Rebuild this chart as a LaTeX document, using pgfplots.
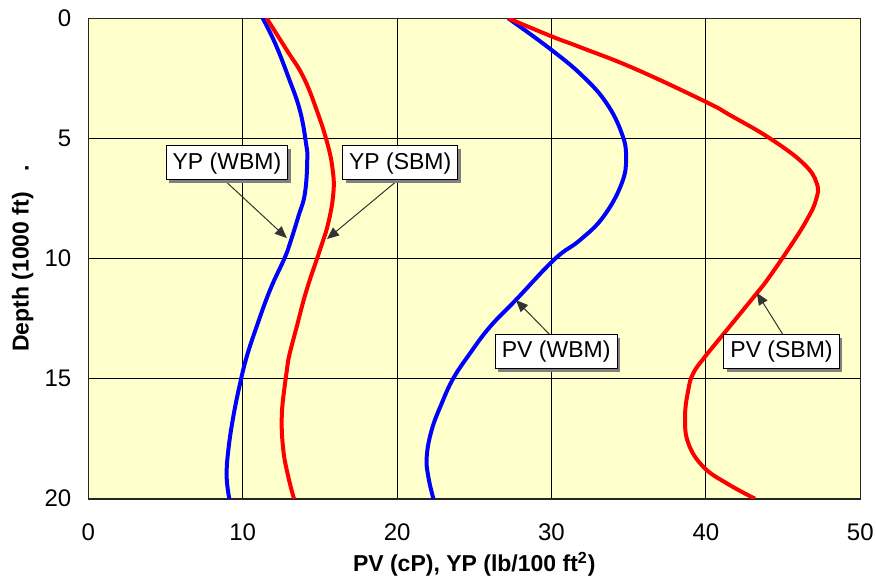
\documentclass[border=0pt]{standalone}
\usepackage{pgfplots}
\pgfplotsset{compat=1.18}
\usepackage{fontspec}
\setmainfont{Liberation Sans}
\usetikzlibrary{arrows.meta,shadows}
\definecolor{bgyellow}{RGB}{255,255,204}
\definecolor{myblue}{RGB}{0,0,255}
\definecolor{myred}{RGB}{255,0,0}
\begin{document}
\begin{tikzpicture}[font=\fontsize{11.5}{13.8}\selectfont]
\begin{axis}[
  scale only axis,
  width=386pt, height=240.2pt,
  xmin=0, xmax=50, ymin=0, ymax=20,
  y dir=reverse,
  xtick={0,10,20,30,40,50},
  ytick={0,5,10,15,20},
  major tick length=0pt,
  grid=major,
  major grid style={black, line width=0.5pt},
  axis line style={black!85, line width=0.8pt},
  axis background/.style={fill=bgyellow},
  /pgf/number format/assume math mode=true,
  xticklabel style={yshift=-9pt},
  yticklabel style={xshift=-5pt},
  xlabel={\bfseries PV (cP), YP (lb/100 ft\textsuperscript{2})},
  ylabel={\bfseries Depth (1000 ft)\hspace{0.9em}.},
  xlabel style={at={(axis description cs:0.5,0)}, anchor=north, yshift=-23pt},
  ylabel style={at={(axis description cs:-0.062,0.5)}, anchor=south},
  tick label style={font=\fontsize{12}{14}\selectfont},
  label style={font=\fontsize{11.5}{13.8}\selectfont},
]
% YP (WBM)
\addplot[myblue, line width=2pt, smooth, tension=0.7] coordinates {
(11.3,0) (12.1,1.04) (12.95,2.43) (13.7,3.82) (14.1,5.2) (14.18,5.9) (14.03,7.29)
(13.6,8.26) (13.06,9.37) (12.7,10.0) (11.77,11.31) (10.9,12.84) (10.26,14.09)
(9.83,15.2) (9.39,16.59) (9.07,17.97) (8.96,19.08) (9.13,20)
};
% YP (SBM)
\addplot[myred, line width=2pt, smooth, tension=0.7] coordinates {
(11.55,0) (12.85,1.32) (13.92,2.43) (14.79,3.82) (15.48,5.2) (15.83,6.32) (15.87,7.29)
(15.54,8.53) (15.0,9.65) (14.14,11.31) (13.5,12.84) (12.95,14.23) (12.74,15.2)
(12.53,16.59) (12.63,17.97) (12.95,19.08) (13.32,20)
};
% PV (WBM)
\addplot[myblue, line width=2pt, smooth, tension=0.7] coordinates {
(27.2,0) (30.01,1.32) (32.06,2.43) (33.57,3.54) (34.55,4.79) (34.83,5.76) (34.55,6.87)
(33.36,8.26) (31.85,9.23) (30.2,10.03) (27.7,11.72) (26.02,12.84) (24.72,13.95)
(23.64,14.99) (22.89,16.03) (22.24,17.14) (21.92,18.25) (22.02,19.08) (22.35,20)
};
% PV (SBM)
\addplot[myred, line width=2pt, smooth, tension=0.7] coordinates {
(27.2,0) (30.0,0.75) (31.85,1.2) (35.4,2.1) (40.0,3.48) (41.56,4.03) (44.15,5.0)
(46.31,6.04) (47.18,6.87) (47.13,7.56) (46.53,8.4) (45.45,9.51) (44.04,10.83)
(43.29,11.45) (41.35,12.98) (39.94,14.09) (39.18,14.78) (38.86,15.47) (38.65,16.59)
(38.86,17.69) (39.83,18.67) (41.35,19.36) (43.18,20)
};
% arrows
\draw[black!80, line width=0.5pt, -{Triangle[length=6pt,width=5pt]}] (axis cs:8.8,6.73) -- (axis cs:12.86,9.15);
\draw[black!80, line width=0.5pt, -{Triangle[length=6pt,width=5pt]}] (axis cs:20.06,6.73) -- (axis cs:15.46,9.19);
\draw[black!80, line width=0.5pt, -{Triangle[length=6pt,width=5pt]}] (axis cs:29.9,13.18) -- (axis cs:27.7,11.73);
\draw[black!80, line width=0.5pt, -{Triangle[length=6pt,width=5pt]}] (axis cs:45.0,13.18) -- (axis cs:43.3,11.43);
% label boxes
\tikzset{lbl/.style={draw=black, line width=0.5pt, fill=white, inner xsep=3.3pt, inner ysep=3pt,
  text height=8.6pt, text depth=2.4pt,
  drop shadow={shadow xshift=1.6pt, shadow yshift=-1.6pt, fill=black!50, opacity=1}}}
\node[lbl] at (axis cs:8.98,6.02) {YP (WBM)};
\node[lbl] at (axis cs:20.2,6.02) {YP (SBM)};
\node[lbl] at (axis cs:30.3,13.87) {PV (WBM)};
\node[lbl] at (axis cs:44.9,13.87) {PV (SBM)};
\coordinate (O) at (axis description cs:0,0);
\end{axis}
\pgfresetboundingbox
\path[use as bounding box] ([shift={(-44.15pt,-42.15pt)}]O) rectangle ([shift={(393.85pt,249.35pt)}]O);
\end{tikzpicture}
\end{document}
